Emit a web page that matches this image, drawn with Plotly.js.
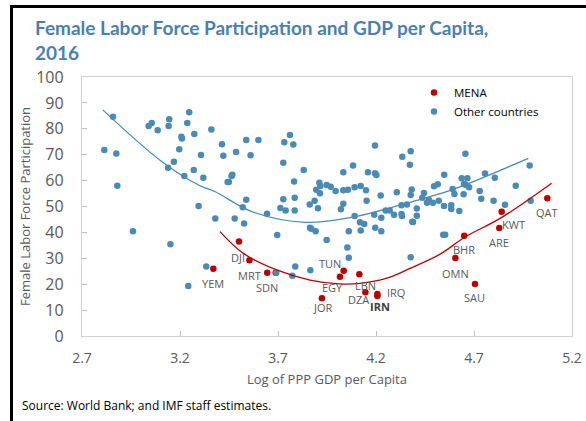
<!DOCTYPE html>
<html>
<head>
<meta charset="utf-8">
<script src="https://cdn.plot.ly/plotly-3.0.1.min.js"></script>
<style>
  html, body { margin: 0; padding: 0; background: #ffffff; }
  #chart { width: 586px; height: 421px; }
</style>
</head>
<body>
<div id="chart"></div>
<script>
// ---------------- DATA ----------------
// MENA countries: log PPP GDP per capita, female labour force participation
const menaCodes = ["YEM", "DJI", "", "MRT", "SDN", "TUN", "EGY", "LBN", "DZA", "IRQ", "IRN", "JOR",
                   "BHR", "OMN", "SAU", "KWT", "ARE", "QAT"];
const menaX = [3.370, 3.554, 3.501, 3.645, 3.688, 4.035, 4.016, 4.115, 4.146, 4.207, 4.207, 3.924,
               4.650, 4.605, 4.705, 4.841, 4.829, 5.074];
const menaY = [26.0, 29.2, 36.5, 24.4, 24.4, 25.2, 22.9, 23.8, 16.9, 16.2, 15.4, 14.6,
               38.7, 30.1, 20.1, 48.0, 41.7, 53.2];

// Other countries
const otherX = [
  2.858, 2.814, 2.875, 2.880, 3.040, 3.056, 3.086, 3.145, 3.142, 3.247,
  3.237, 3.207, 3.210, 3.273, 3.360, 3.414, 3.538, 3.196, 3.307, 3.421,
  3.486, 3.560, 3.169, 3.139, 3.270, 3.222, 3.319, 3.467, 3.463, 3.443,
  3.449, 3.295, 3.538, 3.520, 3.380, 3.479, 3.600, 3.761, 3.732, 3.778,
  3.727, 3.831, 3.782, 3.727, 3.785, 3.712, 3.739, 3.785, 3.644, 3.696,
  3.862, 3.887, 3.904, 3.895, 3.911, 3.916, 3.914, 3.948, 3.969, 3.994,
  4.033, 4.083, 4.033, 4.057, 4.091, 4.122, 4.149, 4.033, 4.021, 4.152,
  4.159, 4.195, 4.195, 4.202, 4.224, 4.091, 4.118, 4.140, 4.191, 4.227,
  4.249, 4.270, 4.292, 4.330, 4.333, 4.306, 4.330, 4.358, 4.377, 4.382,
  4.334, 4.377, 4.373, 4.385, 3.863, 3.870, 3.892, 3.948, 4.061, 4.122,
  4.196, 4.227, 4.656, 4.984, 4.548, 4.637, 4.666, 4.756, 4.806, 4.649,
  4.659, 4.675, 4.591, 4.600, 4.729, 4.737, 4.647, 4.913, 4.800, 4.858,
  4.989, 4.547, 4.584, 4.584, 4.625, 4.520, 4.490, 4.470, 4.460, 4.445,
  4.436, 4.496, 4.515, 4.408, 4.408, 4.389, 4.543, 4.553, 4.377, 2.960,
  3.151, 3.334, 3.242, 3.527, 3.691, 3.788, 3.773, 3.865, 4.054, 4.061
];
const otherY = [
  84.7, 71.8, 70.5, 58.0, 81.1, 82.2, 79.4, 83.7, 81.1, 86.4,
  82.2, 76.9, 76.3, 78.0, 79.7, 74.0, 75.7, 72.1, 69.9, 69.6,
  71.0, 69.8, 67.3, 65.0, 64.1, 61.8, 61.1, 62.3, 61.8, 59.5,
  59.5, 50.2, 52.6, 49.7, 45.4, 45.4, 75.7, 77.6, 74.8, 73.9,
  66.9, 64.1, 59.7, 52.8, 53.4, 49.4, 48.5, 48.5, 47.2, 39.0,
  50.8, 52.2, 49.3, 56.5, 59.2, 57.9, 55.1, 58.3, 57.6, 56.0,
  63.2, 65.8, 56.3, 56.5, 57.4, 57.9, 56.3, 51.1, 48.9, 52.2,
  63.2, 73.6, 62.8, 62.2, 54.2, 46.3, 43.9, 43.2, 46.8, 45.7,
  48.5, 48.5, 46.8, 47.1, 46.3, 55.5, 50.5, 50.8, 54.4, 56.6,
  69.2, 71.3, 66.1, 44.1, 41.8, 41.4, 40.4, 37.1, 40.4, 40.7,
  41.8, 40.4, 70.4, 65.8, 62.3, 60.9, 60.9, 62.7, 61.1, 58.7,
  58.3, 57.4, 56.8, 54.8, 56.0, 53.0, 54.7, 58.0, 52.2, 50.7,
  52.2, 50.2, 50.5, 49.0, 48.3, 52.2, 51.4, 52.5, 51.4, 55.2,
  53.4, 57.8, 58.6, 49.2, 46.4, 44.0, 39.1, 39.1, 30.4, 40.4,
  35.4, 26.8, 19.3, 43.4, 24.4, 26.8, 23.3, 25.4, 34.2, 30.2
];

// Fitted trend curves
const trendOtherX = [2.806, 3.108, 3.302, 3.380, 3.567, 3.838, 4.093, 4.399, 4.586, 4.977];
const trendOtherY = [87.3, 67.3, 58.0, 55.7, 48.0, 43.9, 46.1, 52.2, 56.4, 68.6];
const trendMenaX = [3.404, 3.523, 3.693, 3.863, 4.016, 4.118, 4.255, 4.373, 4.527, 4.654, 4.833, 5.096];
const trendMenaY = [40.3, 31.9, 25.5, 21.6, 20.1, 20.3, 22.3, 26.1, 31.6, 38.2, 45.4, 59.0];

// Axis ticks
const xTickVals = [2.7, 3.2, 3.7, 4.2, 4.7, 5.2];
const xTickText = ["2.7", "3.2", "3.7", "4.2", "4.7", "5.2"];
const yTickVals = [0, 10, 20, 30, 40, 50, 60, 70, 80, 90, 100];

// ---------------- LABEL PLACEMENT (pixel offsets of each country code) ----------------
const labelDx = [0, -11, 0, -18, -9, -14, -7, 6, -7, 19, 3, 1, 0, 0, 0, 12, 0, 0];
const labelDy = [15, -3, 0, 3, 15, -7, 11, 11, 7, -2, 10, 9, 14, 15, 14, 13, 14, 14];

// ---------------- STYLE ----------------
const BLUE = "#4a8bb5";
const RED = "#c00000";
const GREY_TEXT = "#595959";
const FONT = "Open Sans, DejaVu Sans, sans-serif";

const traces = [
  {
    type: "scatter", mode: "markers", name: "MENA",
    x: menaX, y: menaY, text: menaCodes,
    marker: { color: RED, size: 6.5 },
    hoverinfo: "text+x+y"
  },
  {
    type: "scatter", mode: "markers", name: "Other countries",
    x: otherX, y: otherY,
    marker: { color: BLUE, size: 6.5 },
    hoverinfo: "x+y"
  },
  {
    type: "scatter", mode: "lines", name: "Other countries trend",
    x: trendOtherX, y: trendOtherY, showlegend: false, hoverinfo: "skip",
    line: { color: BLUE, width: 1.3, shape: "spline", smoothing: 1 }
  },
  {
    type: "scatter", mode: "lines", name: "MENA trend",
    x: trendMenaX, y: trendMenaY, showlegend: false, hoverinfo: "skip",
    line: { color: RED, width: 1.3, shape: "spline", smoothing: 1 }
  }
];

const annotations = [];
menaCodes.forEach(function (code, i) {
  if (!code) return;
  annotations.push({
    x: menaX[i], y: menaY[i], xref: "x", yref: "y",
    text: code === "IRN" ? "<b>" + code + "</b>" : code,
    showarrow: false,
    xshift: labelDx[i], yshift: -labelDy[i],
    xanchor: "center", yanchor: "middle",
    font: { family: FONT, size: 11, color: code === "IRN" ? "#404040" : GREY_TEXT }
  });
});
annotations.push({
  xref: "paper", yref: "paper",
  x: (20 - 82) / 490, y: (336 - 405) / 259,
  xanchor: "left", yanchor: "middle",
  text: "Source: World Bank; and IMF staff estimates.",
  showarrow: false,
  font: { family: FONT, size: 12, color: "#000000" }
});

const layout = {
  width: 586, height: 421,
  margin: { l: 82, r: 14, t: 77, b: 85, pad: 0 },
  paper_bgcolor: "#ffffff", plot_bgcolor: "#ffffff",
  showlegend: true,
  title: {
    text: "Female Labor Force Participation and GDP per Capita,<br>2016",
    font: { family: "Lato, Open Sans, sans-serif", size: 19, color: "#4a7fb5", weight: "bold" },
    xref: "container", yref: "container",
    x: 35 / 586, xanchor: "left",
    y: 1 - 35 / 421, yanchor: "top"
  },
  xaxis: {
    range: [2.7, 5.2],
    tickmode: "array", tickvals: xTickVals, ticktext: xTickText,
    ticks: "inside", ticklen: 5, tickcolor: "#bfbfbf",
    showgrid: false, zeroline: false,
    showline: true, linecolor: "#d0d0d0", linewidth: 1.3, mirror: true,
    tickfont: { family: FONT, size: 14, color: GREY_TEXT },
    ticklabelstandoff: 9,
    title: { text: "Log of PPP GDP per Capita", font: { family: FONT, size: 13, color: GREY_TEXT }, standoff: 8 },
    automargin: false, fixedrange: true
  },
  yaxis: {
    range: [0, 100],
    tickmode: "array", tickvals: yTickVals,
    ticks: "inside", ticklen: 5, tickcolor: "#bfbfbf",
    showgrid: false, zeroline: false,
    showline: true, linecolor: "#d0d0d0", linewidth: 1.3, mirror: true,
    tickfont: { family: FONT, size: 16, color: GREY_TEXT },
    ticklabelstandoff: 14,
    title: { text: "Female Labor Force Participation", font: { family: FONT, size: 13, color: GREY_TEXT }, standoff: 2 },
    automargin: false, fixedrange: true
  },
  legend: {
    x: (414 - 82) / 490, xanchor: "left",
    y: (336 - 78) / 259, yanchor: "top",
    bgcolor: "rgba(0,0,0,0)",
    font: { family: FONT, size: 11.5, color: "#000000" },
    itemwidth: 30, tracegroupgap: 0
  },
  annotations: annotations,
  shapes: [
    { type: "line", xref: "paper", yref: "paper",
      x0: (11.5 - 82) / 490, x1: (586 - 82) / 490, y0: (336 - 6.5) / 259, y1: (336 - 6.5) / 259,
      line: { color: "#000000", width: 3 } },
    { type: "line", xref: "paper", yref: "paper",
      x0: (11.5 - 82) / 490, x1: (11.5 - 82) / 490, y0: (336 - 5) / 259, y1: (336 - 425) / 259,
      line: { color: "#000000", width: 3 } }
  ],
  hovermode: "closest"
};

Plotly.newPlot("chart", traces, layout, { displayModeBar: false, staticPlot: false });
</script>
</body>
</html>
